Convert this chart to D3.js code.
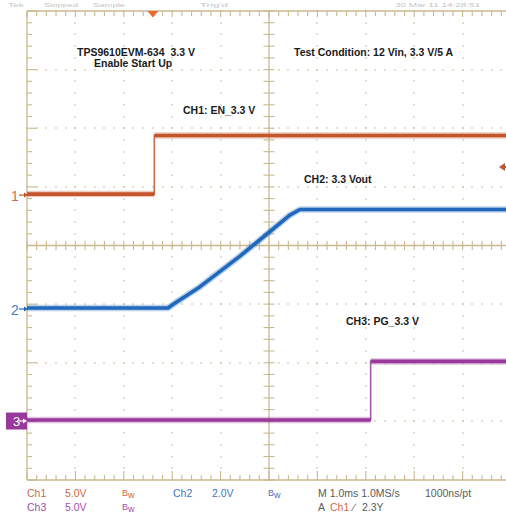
<!DOCTYPE html>
<html><head><meta charset="utf-8">
<script src="https://cdn.jsdelivr.net/npm/d3@7/dist/d3.min.js"></script>
<style>html,body{margin:0;padding:0;background:#fff;overflow:hidden}svg{display:block}text{font-family:"Liberation Sans",Arial,sans-serif}</style>
</head><body>
<script>
// ---- data (time in ms relative to screen centre, values in volts) ----
const ch1Time = [-5.0, -2.37, -2.37, 5.2];
const ch1Volt = [0.0, 0.0, 5.0, 5.0];
const ch2Time = [-5.0, -2.09, -1.94, -1.43, -0.60, 0.02, 0.43, 0.64, 5.2];
const ch2Volt = [0.0, 0.0, 0.17, 0.72, 1.77, 2.61, 3.17, 3.36, 3.36];
const ch3Time = [-5.0, 2.10, 2.10, 5.2];
const ch3Volt = [0.0, 0.0, 5.0, 5.0];
const channelNames = ["1", "2", "3"];
const voltsPerDiv = [5.0, 2.0, 5.0];
const triggerTime = -2.4;
const triggerLevel = 2.3;
const annotations = ["TPS9610EVM-634  3.3 V", "Enable Start Up", "Test Condition: 12 Vin, 3.3 V/5 A", "CH1: EN_3.3 V", "CH2: 3.3 Vout", "CH3: PG_3.3 V"];
const statusLabels = ["Tek", "Stopped", "Sample", "Trig'd", "30 Mar 11 14:28:51"];
const legendRow1 = ["Ch1", "5.0V", "Bw", "Ch2", "2.0V", "Bw", "M 1.0ms 1.0MS/s", "1000ns/pt"];
const legendRow2 = ["Ch3", "5.0V", "Bw", "A", "Ch1", "\u2215", "2.3Y"];

// ---- layout / style ----
const W = 506, H = 513;
const x = d3.scaleLinear().domain([-5, 5]).range([27, 511]);
const yDiv = d3.scaleLinear().domain([-4, 4]).range([480, 11]);
const chOffsetDiv = [0.877, -1.066, -2.977];
const traceColors = ["#c4552b", "#1f68bb", "#98399b"];
const legendColors = ["#cf6a42", "#3f74c4", "#a24fab"];
const gridColor = "#c9b98f";
const dotColor = "#cbbf9c";

const svg = d3.select("body").append("svg").attr("width", W).attr("height", H);

// status line (faint, tiny)
const statusX = [8, 44, 93, 200, 395];
const statusW = [16, 34, 32, 28, 85];
svg.selectAll("text.status").data(statusLabels).join("text").attr("class", "status")
  .attr("x", (d, i) => statusX[i]).attr("y", 7).attr("font-size", 5)
  .attr("textLength", (d, i) => statusW[i]).attr("lengthAdjust", "spacingAndGlyphs")
  .attr("fill", "#c4c4c4").text(d => d);

const g = svg.append("g");
// dotted grid
const majorT = d3.range(-4, 5, 1).filter(d => d !== 0);
const majorD = d3.range(-3, 4, 1).filter(d => d !== 0);
const minorT = d3.range(-5, 5.001, 0.2);
const minorD = d3.range(-4, 4.001, 0.2);
const dots = [];
majorT.forEach(t => minorD.forEach(dv => dots.push([x(t), yDiv(dv)])));
majorD.forEach(dv => minorT.forEach(t => dots.push([x(t), yDiv(dv)])));
g.selectAll("rect.dot").data(dots).join("rect").attr("class", "dot")
  .attr("x", d => Math.round(d[0]) - 0.7).attr("y", d => Math.round(d[1]) - 0.7).attr("width", 1.4).attr("height", 1.4).attr("fill", dotColor);

// borders + crosshair
const line = (x1, y1, x2, y2, w) => g.append("line").attr("x1", x1).attr("y1", y1).attr("x2", x2).attr("y2", y2)
  .attr("stroke", gridColor).attr("stroke-width", w || 1.3);
line(x(-5), yDiv(4), x(5), yDiv(4));
line(x(-5), yDiv(-4), x(5), yDiv(-4));
line(x(-5), yDiv(4), x(-5), yDiv(-4));
line(x(0), yDiv(4), x(0), yDiv(-4));
line(x(-5), yDiv(0), x(5), yDiv(0));
minorT.forEach(t => {
  const maj = Math.abs(t - Math.round(t)) < 1e-6;
  line(x(t), yDiv(4), x(t), yDiv(4) + (maj ? 6 : 5), 1.1);
  line(x(t), yDiv(-4), x(t), yDiv(-4) - (maj ? 9 : 5), 1.1);
  line(x(t), yDiv(0) - 4.5, x(t), yDiv(0) + 4.5, 1.1);
});
minorD.forEach(dv => {
  const maj = Math.abs(dv - Math.round(dv)) < 1e-6;
  line(x(-5), yDiv(dv), x(-5) + (maj ? 10 : 5), yDiv(dv), 1.1);
  line(x(0) - 5.5, yDiv(dv), x(0) + 5.5, yDiv(dv), 1.1);
});

// traces
const series = [[ch1Time, ch1Volt], [ch2Time, ch2Volt], [ch3Time, ch3Volt]];
svg.append("clipPath").attr("id", "plot").append("rect")
  .attr("x", x(-5)).attr("y", yDiv(4)).attr("width", x(5) - x(-5)).attr("height", yDiv(-4) - yDiv(4));
const tg = svg.append("g").attr("clip-path", "url(#plot)");
series.forEach(([ts, vs], ci) => {
  const yv = v => yDiv(chOffsetDiv[ci] + v / voltsPerDiv[ci]);
  const pts = ts.map((t, i) => [x(t), yv(vs[i])]);
  const ln = d3.line();
  tg.append("path").attr("d", ln(pts)).attr("fill", "none").attr("stroke", traceColors[ci])
    .attr("stroke-width", 1.6).attr("opacity", 0.85);
  let run = [pts[0]];
  const runs = [];
  for (let i = 1; i < pts.length; i++) {
    if (ts[i] === ts[i - 1]) { runs.push(run); run = [pts[i]]; }
    else run.push(pts[i]);
  }
  runs.push(run);
  runs.filter(r => r.length > 1).forEach(r => {
    tg.append("path").attr("d", ln(r)).attr("fill", "none").attr("stroke", traceColors[ci])
      .attr("stroke-width", 6.5).attr("opacity", 0.3).attr("stroke-linejoin", "round");
    tg.append("path").attr("d", ln(r)).attr("fill", "none").attr("stroke", traceColors[ci])
      .attr("stroke-width", 3.6).attr("stroke-linejoin", "round");
  });
});

// channel ground markers
channelNames.forEach((nm, ci) => {
  const yy = yDiv(chOffsetDiv[ci]) + 1;
  const c = traceColors[ci];
  if (ci === 2) {
    svg.append("rect").attr("x", 6).attr("y", yy - 8.5).attr("width", 21).attr("height", 17).attr("fill", c);
    svg.append("text").attr("x", 13).attr("y", yy + 5).attr("font-size", 13).attr("fill", "#fff").text(nm);
    svg.append("line").attr("x1", 19).attr("x2", 26).attr("y1", yy).attr("y2", yy).attr("stroke", "#fff").attr("stroke-width", 1.2);
    svg.append("path").attr("d", `M27,${yy} l-4,-2.5 l0,5 z`).attr("fill", "#fff");
  } else {
    svg.append("text").attr("x", 11).attr("y", yy + 6).attr("font-size", 14).attr("fill", c).attr("opacity", 0.85).text(nm);
    svg.append("line").attr("x1", 19).attr("x2", 26).attr("y1", yy).attr("y2", yy).attr("stroke", c).attr("stroke-width", 1.2);
    svg.append("path").attr("d", `M28,${yy} l-4,-2.5 l0,5 z`).attr("fill", c);
  }
});

// trigger position marker (top) and level marker (right)
const tx = x(triggerTime);
svg.append("path").attr("d", `M${tx - 5.5},${yDiv(4)} L${tx + 5.5},${yDiv(4)} L${tx},${yDiv(4) + 6.5} Z`).attr("fill", "#ee6a2c");
const ty = yDiv(chOffsetDiv[0] + triggerLevel / voltsPerDiv[0]);
svg.append("path").attr("d", `M499,${ty} L505,${ty - 4} L505,${ty + 4} Z`).attr("fill", traceColors[0]);
svg.append("line").attr("x1", 503).attr("x2", 506).attr("y1", ty).attr("y2", ty).attr("stroke", traceColors[0]).attr("stroke-width", 2);

// annotations
const annPos = [[77, 56], [94, 67], [294, 56], [183, 114], [304, 183], [346, 325]];
svg.selectAll("text.ann").data(annotations).join("text").attr("class", "ann")
  .attr("x", (d, i) => annPos[i][0]).attr("y", (d, i) => annPos[i][1])
  .attr("font-size", 10.5).attr("font-weight", "bold").attr("fill", "#1a1a1a")
  .style("white-space", "pre").text(d => d);

// legend
const grey = "#5a5a5a";
const row1X = [27, 65, 122, 173, 212, 268, 318, 425];
const row1C = [legendColors[0], legendColors[0], legendColors[0], legendColors[1], legendColors[1], legendColors[1], grey, grey];
const row2X = [27, 65, 122, 318, 330, 353, 362];
const row2C = [legendColors[2], legendColors[2], legendColors[2], grey, legendColors[0], grey, grey];
function legendRow(labels, xs, cs, yb) {
  labels.forEach((lb, i) => {
    const t = svg.append("text").attr("x", xs[i]).attr("y", yb).attr("font-size", 10.5).attr("fill", cs[i]);
    if (lb === "Bw") {
      t.append("tspan").attr("font-size", 9).attr("dy", -1).text("B");
      t.append("tspan").attr("font-size", 9).attr("dy", 2).text("w");
    } else t.text(lb);
  });
}
legendRow(legendRow1, row1X, row1C, 497);
legendRow(legendRow2, row2X, row2C, 511);
</script>
</body></html>
